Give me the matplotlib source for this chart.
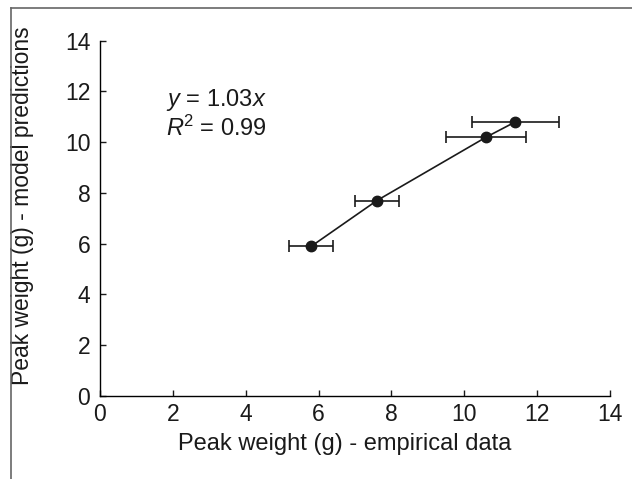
import matplotlib
matplotlib.use("Agg")
import matplotlib.pyplot as plt
from matplotlib.lines import Line2D

plt.rcParams["font.family"] = ["Liberation Sans", "DejaVu Sans"]
plt.rcParams["mathtext.fontset"] = "custom"
plt.rcParams["mathtext.it"] = "Liberation Sans:italic"
plt.rcParams["mathtext.rm"] = "Liberation Sans"

# empirical vs model peak weight (g)
empirical = [5.8, 7.6, 10.6, 11.4]
predicted = [5.9, 7.7, 10.2, 10.8]
empirical_err = [0.6, 0.6, 1.1, 1.2]

ticks = [0, 2, 4, 6, 8, 10, 12, 14]

fig = plt.figure(figsize=(6.32, 4.79), dpi=100)
ax = fig.add_axes([0.1582, 0.1733, 0.8070, 0.7417])

ax.errorbar(empirical, predicted, xerr=empirical_err, fmt='o', color='#1a1a1a',
            ecolor='#1a1a1a', markersize=7.5, capsize=4, elinewidth=1.2,
            capthick=1.2, linestyle='-', linewidth=1.2)

ax.set_xlim(0, 14)
ax.set_ylim(0, 14)
ax.set_xticks(ticks)
ax.set_yticks(ticks)
ax.tick_params(direction='in', length=4, width=1, labelsize=16.5,
               colors='#1a1a1a')
ax.tick_params(axis='x', pad=5)
ax.tick_params(axis='y', pad=7)

# hide top and right spines
ax.spines['top'].set_visible(False)
ax.spines['right'].set_visible(False)
ax.spines['left'].set_linewidth(1)
ax.spines['bottom'].set_linewidth(1)

ax.set_xlabel("Peak weight (g) - empirical data", fontsize=17, color='#1a1a1a')
ax.set_ylabel("Peak weight (g) - model predictions", fontsize=16.5, color='#1a1a1a')
ax.xaxis.set_label_coords(0.48, -0.105)
ax.yaxis.set_label_coords(-0.13, 0.535)

ax.text(1.8, 11.65, r"$y$ = 1.03$x$", fontsize=17, va='center', ha='left',
        color='#1a1a1a')
ax.text(1.8, 10.55, r"$R$$^{2}$ = 0.99", fontsize=17, va='center', ha='left',
        color='#1a1a1a')

# outer frame (left and top)
fig.add_artist(Line2D([11 / 632, 11 / 632], [0, 1 - 8 / 479], color='#666666',
                      linewidth=1.2, transform=fig.transFigure))
fig.add_artist(Line2D([11 / 632, 1], [1 - 8 / 479, 1 - 8 / 479], color='#666666',
                      linewidth=1.2, transform=fig.transFigure))

fig.savefig("out.png", dpi=100)
